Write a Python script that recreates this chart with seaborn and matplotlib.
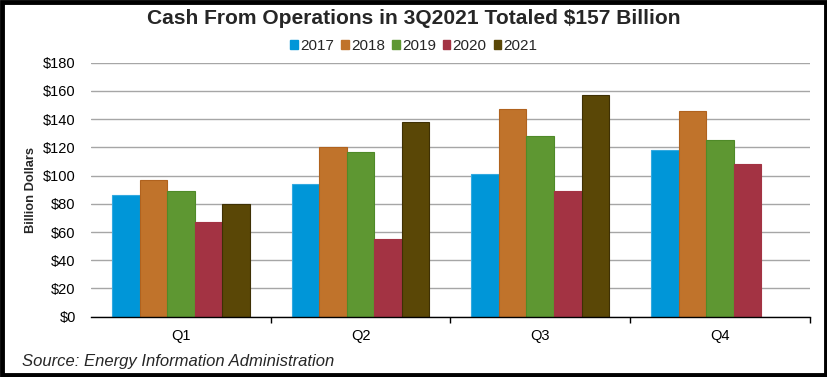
import matplotlib
matplotlib.use("Agg")
import matplotlib.pyplot as plt
import seaborn as sns
import pandas as pd
import numpy as np
from matplotlib.patches import Rectangle
from matplotlib.ticker import FuncFormatter, FixedLocator

quarters = ["Q1", "Q2", "Q3", "Q4"]
years = ["2017", "2018", "2019", "2020", "2021"]
v2017 = [86, 94, 101, 118]
v2018 = [97, 120, 147, 146]
v2019 = [89, 117, 128, 125]
v2020 = [67, 55, 89, 108]
v2021 = [80, 138, 157, np.nan]
colors = ["#0096D8", "#C0732B", "#5E9732", "#A33343", "#5A4706"]
edges = ["#33A9E0", "#B0621E", "#4F8A28", "#A33343", "#3E3004"]

rows = []
for yr, vals in zip(years, [v2017, v2018, v2019, v2020, v2021]):
    for q, v in zip(quarters, vals):
        rows.append({"Quarter": q, "Year": yr, "Value": v})
df = pd.DataFrame(rows)

sns.set_theme(style="white")
plt.rcParams["font.family"] = ["Liberation Sans", "DejaVu Sans"]

fig = plt.figure(figsize=(8.28, 3.77), dpi=100)
ax = fig.add_axes([0.1099, 0.16, 0.978 - 0.1099, 0.8337 - 0.16])

sns.barplot(data=df, x="Quarter", y="Value", hue="Year", order=quarters,
            hue_order=years, palette=colors, width=0.766, gap=0,
            ax=ax, legend=False, saturation=1)

for i, cont in enumerate(ax.containers):
    for p in cont.patches:
        p.set_edgecolor(edges[i])
        p.set_linewidth(0.8)

ax.set_ylim(0, 180)
ax.set_xlim(-0.5, 3.5)
ax.yaxis.set_major_locator(FixedLocator(np.arange(0, 181, 20)))
ax.yaxis.set_major_formatter(FuncFormatter(lambda v, p: f"${int(v)}"))
ax.grid(axis="y", color="#A6A6A6", linewidth=1.0)
ax.set_axisbelow(True)
for s in ["left", "right", "top"]:
    ax.spines[s].set_visible(False)
ax.spines["bottom"].set_color("black")
ax.spines["bottom"].set_linewidth(1.0)
ax.tick_params(axis="y", length=0, pad=11, labelsize=10.5, labelcolor="black")
ax.tick_params(axis="x", which="major", length=0, pad=9, labelsize=10.5, labelcolor="black")
ax.set_xticks([0.5, 1.5, 2.5, 3.5], minor=True)
ax.tick_params(axis="x", which="minor", length=4, direction="out", color="black", bottom=True)
ax.set_xlabel("")
ax.set_ylabel("Billion Dollars", fontsize=9.3, fontweight="bold", labelpad=4)

fig.text(0.5, 0.950, "Cash From Operations in 3Q2021 Totaled $157 Billion",
         ha="center", va="center", fontsize=15.1, fontweight="bold")

handles = [Rectangle((0, 0), 1, 1, facecolor=c, edgecolor=c) for c in colors]
fig.legend(handles, years, loc="center", bbox_to_anchor=(0.5, 0.878), ncol=5,
           frameon=False, fontsize=11, handlelength=0.5, handleheight=0.5,
           handletextpad=0.15, columnspacing=0.45, borderpad=0)

fig.text(0.026, 0.042, "Source: Energy Information Administration",
         ha="left", va="center", fontsize=12, style="italic")

fig.patches.append(Rectangle((0.002, 0.004), 0.996, 0.992, transform=fig.transFigure,
                             fill=False, edgecolor="black", linewidth=3.5))

fig.savefig("out.png", dpi=100)
